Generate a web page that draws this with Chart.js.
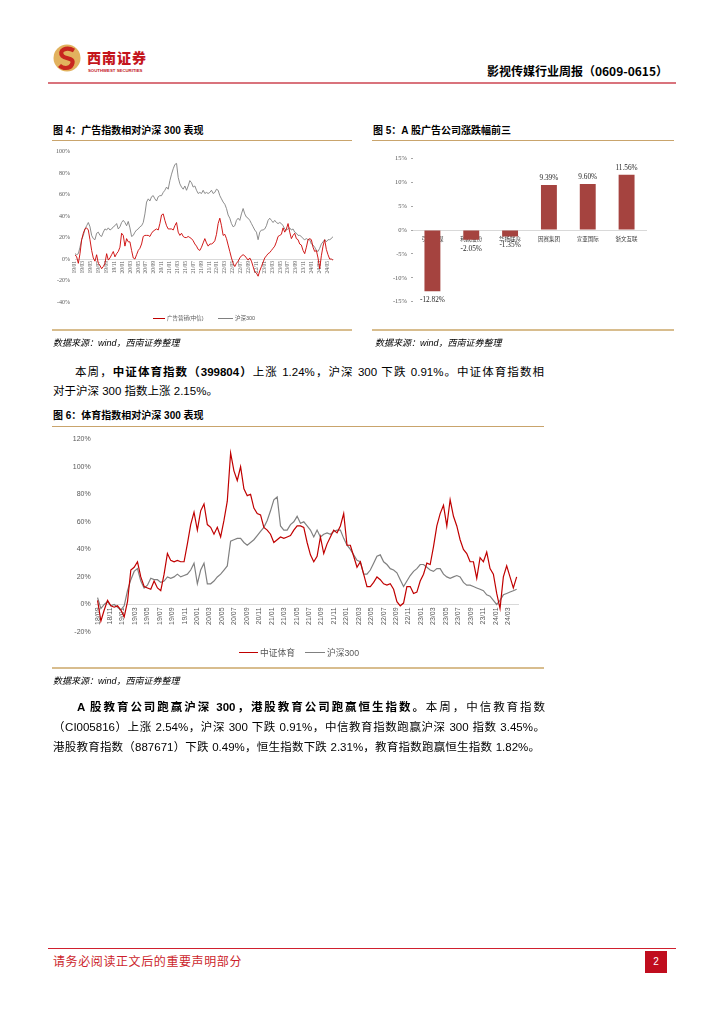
<!DOCTYPE html>
<html><head><meta charset="utf-8">
<script src="https://cdn.jsdelivr.net/npm/chart.js@4.4.1/dist/chart.umd.min.js"></script>
<style>
html,body{margin:0;padding:0;background:#fff;}
body{width:724px;height:1024px;position:relative;overflow:hidden;font-family:"Liberation Sans","Noto Sans CJK SC",sans-serif;color:#000;}
.a{position:absolute;}
.cap{position:absolute;font-size:10px;font-weight:bold;white-space:nowrap;font-family:"Liberation Sans","Noto Sans CJK SC",sans-serif;}
.src{position:absolute;font-size:9px;font-style:italic;white-space:nowrap;color:#000;}
.tan1{position:absolute;height:1px;background:#c9a46c;}
.tan2{position:absolute;height:2px;background:#d8bd8e;}
.jl{position:absolute;font-size:11.5px;line-height:16px;text-align:justify;text-align-last:justify;}
.ll{position:absolute;font-size:11.5px;line-height:16px;white-space:nowrap;}
.lg{position:absolute;white-space:nowrap;color:#595959;}
.ln{position:absolute;}
canvas{position:absolute;}
</style></head>
<body>
<!-- header -->
<svg class="a" style="left:53px;top:44px" width="28" height="28" viewBox="0 0 28 28">
<circle cx="14" cy="14" r="13.5" fill="#e2b25e"/>
<path d="M21 6.5 C13 2 5 7 9.5 12 C13 15.5 22 13.5 19 20.5 C16.5 25.5 9.5 24.5 6.5 21.5" stroke="#c8261f" stroke-width="4.2" fill="none"/>
</svg>
<div class="a" style="left:87px;top:47px;font-size:14px;font-weight:900;color:#c4161c;letter-spacing:1px;font-family:'Noto Sans CJK SC';white-space:nowrap;">西南证券</div>
<div class="a" style="left:88px;top:68px;font-size:4.3px;font-weight:bold;color:#c4161c;white-space:nowrap;">SOUTHWEST SECURITIES</div>
<div class="a" style="right:56px;top:62px;font-size:12px;font-weight:bold;white-space:nowrap;font-family:'Noto Sans CJK SC';">影视传媒行业周报（0609-0615）</div>
<div class="a" style="left:48px;top:82px;width:628px;height:2px;background:#d9737c;"></div>

<!-- figure 4 & 5 captions -->
<div class="cap" style="left:53px;top:122px;">图 4：广告指数相对沪深 300 表现</div>
<div class="tan1" style="left:52px;top:140px;width:300px;"></div>
<div class="cap" style="left:373px;top:122px;">图 5：A 股广告公司涨跌幅前三</div>
<div class="tan1" style="left:372px;top:140px;width:302px;"></div>

<canvas id="c4" width="300" height="185" style="left:52px;top:143px;width:300px;height:185px;"></canvas>
<canvas id="c5" width="302" height="187" style="left:372px;top:143px;width:302px;height:187px;"></canvas>

<!-- fig 4 legend -->
<div class="ln" style="left:153px;top:318px;width:12px;height:1px;background:#c00000;"></div>
<div class="lg" style="left:167px;top:314px;font-size:5.5px;">广告营销(中信)</div>
<div class="ln" style="left:218px;top:318px;width:15px;height:1px;background:#808080;"></div>
<div class="lg" style="left:235px;top:314px;font-size:5.5px;">沪深300</div>

<div class="tan2" style="left:52px;top:329px;width:300px;"></div>
<div class="tan2" style="left:372px;top:329px;width:302px;"></div>
<div class="src" style="left:53px;top:336px;">数据来源：wind，西南证券整理</div>
<div class="src" style="left:375px;top:336px;">数据来源：wind，西南证券整理</div>

<!-- paragraph 1 -->
<div class="jl" style="left:75px;top:364px;width:469px;">本周，<b>中证体育指数（399804）</b>上涨 1.24%，沪深 300 下跌 0.91%。中证体育指数相</div>
<div class="ll" style="left:53px;top:383px;">对于沪深 300 指数上涨 2.15%。</div>

<!-- figure 6 -->
<div class="cap" style="left:53px;top:407px;">图 6：体育指数相对沪深 300 表现</div>
<div class="tan1" style="left:52px;top:426px;width:492px;"></div>
<canvas id="c6" width="492" height="236" style="left:52px;top:430px;width:492px;height:236px;"></canvas>
<div class="ln" style="left:239px;top:652px;width:19px;height:1.3px;background:#c00000;"></div>
<div class="lg" style="left:260px;top:646px;font-size:8.75px;">中证体育</div>
<div class="ln" style="left:305px;top:652px;width:20px;height:1.3px;background:#808080;"></div>
<div class="lg" style="left:327px;top:646px;font-size:8.75px;">沪深300</div>
<div class="tan2" style="left:52px;top:667px;width:492px;"></div>
<div class="src" style="left:53px;top:674px;">数据来源：wind，西南证券整理</div>

<!-- paragraph 2 -->
<div class="jl" style="left:77px;top:699px;width:468px;"><b>A 股教育公司跑赢沪深 300，港股教育公司跑赢恒生指数。</b>本周，中信教育指数</div>
<div class="jl" style="left:53px;top:719px;width:492px;">（CI005816）上涨 2.54%，沪深 300 下跌 0.91%，中信教育指数跑赢沪深 300 指数 3.45%。</div>
<div class="jl" style="left:53px;top:739px;width:487px;">港股教育指数（887671）下跌 0.49%，恒生指数下跌 2.31%，教育指数跑赢恒生指数 1.82%。</div>

<!-- footer -->
<div class="a" style="left:48px;top:948px;width:628px;height:1px;background:#d0202e;"></div>
<div class="a" style="left:53px;top:952px;font-size:12px;color:#cc1f2c;letter-spacing:0.6px;white-space:nowrap;">请务必阅读正文后的重要声明部分</div>
<div class="a" style="left:645px;top:951px;width:22px;height:22px;background:#c00d1e;color:#fff;font-size:10px;line-height:22px;text-align:center;">2</div>

<script>
// ---------- Figure 4: 广告指数相对沪深300 ----------
const adTickLabels = ['19/01','19/03','19/05','19/07','19/09','19/11','20/01','20/03','20/05','20/07','20/09','20/11','21/01','21/03','21/05','21/07','21/09','21/11','22/01','22/03','22/05','22/07','22/09','22/11','23/01','23/03','23/05','23/07','23/09','23/11','24/01','24/03','24/05'];
const adSpanMonths = 65.4;
const adIndex = [
 4, 2, -4, 5, 18, 24, 28, 29, 27, 18,
 8, 1, -2, 4, -4, -6, -9, -7, -4, 5,
 -1, 1, 4, 7, 2, 5, 7, 11, 24, 22,
 12, 19, 16, 16, 8, 1, 0, 4, 8, 10,
 14, 21, 22, 22, 22, 21, 24, 26, 27, 28,
 27, 33, 41, 42, 36, 31, 28, 28, 28, 27,
 31, 34, 25, 22, 24, 21, 20, 20, 21, 20,
 19, 17, 14, 12, 9, 8, 11, 15, 19, 15,
 12, 14, 14, 15, 17, 23, 33, 38, 31, 22,
 23, 19, 13, 7, 1, -4, -7, -4, -2, 1,
 3, 4, 3, 1, -1, 1, -2, -7, -12, -13,
 -16, -11, -7, -3, 1, 3, 5, 6, 8, 10,
 12, 16, 21, 22, 23, 29, 25, 28, 33, 25,
 19, 22, 24, 19, 18, 14, 13, 8, 5, 11,
 18, 19, 18, 11, 7, 8, 1, -9, 3, 12,
 18, 9, 4, 0, 0, -1];
const adHs300 = [
 5, 4, 5, 11, 18, 22, 28, 31, 34, 30,
 22, 19, 18, 24, 25, 22, 21, 25, 28, 27,
 29, 27, 28, 30, 31, 33, 28, 30, 34, 36,
 34, 31, 35, 29, 21, 22, 25, 27, 28, 30,
 31, 34, 42, 53, 56, 54, 58, 59, 56, 54,
 58, 59, 59, 62, 64, 67, 65, 73, 79, 84,
 88, 89, 76, 70, 67, 65, 68, 64, 68, 73,
 71, 67, 68, 64, 61, 62, 61, 64, 61, 62,
 61, 62, 64, 61, 62, 65, 64, 59, 56, 53,
 51, 47, 41, 38, 33, 30, 31, 36, 38, 36,
 42, 47, 42, 39, 38, 36, 33, 30, 27, 25,
 18, 25, 27, 27, 28, 31, 36, 38, 36, 34,
 36, 34, 33, 34, 33, 31, 28, 27, 28, 29,
 27, 28, 25, 24, 22, 22, 21, 19, 18, 19,
 18, 18, 14, 13, 11, 8, 7, 10, 14, 16,
 18, 16, 18, 18, 19, 21];
const adYTicks = [100, 80, 60, 40, 20, 0, -20, -40];

// ---------- Figure 5: A股广告公司涨跌幅前三 ----------
const barCompanies = ['引力传媒','利欧股份','华扬联众','因赛集团','宣亚国际','浙文互联'];
const barChanges = [-12.82, -2.05, -1.35, 9.39, 9.60, 11.56];
const barYTicks = [15, 10, 5, 0, -5, -10, -15];

// ---------- Figure 6: 体育指数相对沪深300 ----------
const sportsTickLabels = ['18/09','18/11','19/01','19/03','19/05','19/07','19/09','19/11','20/01','20/03','20/05','20/07','20/09','20/11','21/01','21/03','21/05','21/07','21/09','21/11','22/01','22/03','22/05','22/07','22/09','22/11','23/01','23/03','23/05','23/07','23/09','23/11','24/01','24/03'];
const sportsStepMonths = 0.5348;
const sportsIndex = [
 3, -12, -4, 3, -1, -2, -1, -4, -9, 2,
 25, 27, 31, 20, 13, 12, 11, 17, 12, 10,
 22, 37, 32, 31, 32, 31, 31, 44, 58, 67,
 54, 68, 73, 58, 56, 51, 56, 49, 61, 75,
 110, 97, 90, 100, 84, 79, 80, 70, 66, 65,
 56, 54, 51, 45, 47, 49, 48, 49,
 50, 54, 57, 57, 56, 45, 36, 31, 35, 49,
 37, 44, 49, 54, 52, 57, 66, 43, 43, 35,
 27, 31, 22, 13, 13, 16, 20, 18, 15, 14,
 15, 11, 2, -1, 1, 13, 13, 8, 9, 17,
 22, 30, 29, 42, 57, 66, 72, 57, 76, 64,
 57, 47, 40, 37, 31, 31, 19, 34, 31, 38,
 26, 22, 8, -3, 20, 28, 20, 12, 20];
const sportsHs300 = [
 5, -3, 0, 2, -1, 0, -2, -4, -1, 10,
 18, 24, 26, 17, 12, 14, 19, 18, 18, 16,
 17, 20, 19, 20, 22, 20, 21, 22, 25, 30,
 15, 25, 30, 15, 15, 17, 20, 22, 25, 28,
 46, 47, 48, 48, 45, 43, 45, 47, 50, 53,
 56, 61, 68, 76, 78, 57, 54, 54,
 58, 60, 64, 59, 60, 57, 54, 49, 54, 49,
 51, 52, 51, 53, 54, 54, 48, 43, 40, 36,
 32, 31, 22, 22, 25, 30, 35, 36, 31, 29,
 26, 25, 23, 18, 13, 17, 21, 24, 26, 29,
 29, 27, 25, 24, 26, 26, 22, 20, 19, 20,
 21, 20, 16, 14, 14, 13, 12, 11, 10, 7,
 6, 3, 0, 3, 7, 8, 9, 10, 11];
const sportsYTicks = [120, 100, 80, 60, 40, 20, 0, -20];

const RED = '#c00000', GRAY = '#808080';

function lineSet(label, values, step, color, width){
  return {label, data: values.map((v,i)=>({x:i*step, y:v})), borderColor: color, borderWidth: width,
    pointRadius: 0, tension: 0, fill: false};
}

// Figure 4
new Chart(document.getElementById('c4'), {
  type: 'line',
  data: {datasets: [
    lineSet('广告营销(中信)', adIndex, adSpanMonths/(adIndex.length-1), '#cc0000', 0.9),
    lineSet('沪深300', adHs300, adSpanMonths/(adHs300.length-1), GRAY, 0.9)
  ]},
  options: {
    responsive:false, animation:false, devicePixelRatio:1,
    layout:{padding:{left:0, top:7, right:19, bottom:26}},
    plugins:{legend:{display:false}, tooltip:{enabled:false}},
    scales:{
      x:{type:'linear', position:{y:0}, min:0, max:adSpanMonths,
        grid:{display:false, drawTicks:false}, border:{display:true, color:'#d9d9d9', width:1},
        afterBuildTicks:s=>{s.ticks = adTickLabels.map((_,i)=>({value:i*2}));},
        ticks:{autoSkip:false, minRotation:90, maxRotation:90, padding:2, color:'#595959',
          font:{size:5.5, family:'Liberation Serif'}, callback:v=>adTickLabels[Math.round(v/2)]}},
      y:{type:'linear', min:-40, max:100,
        grid:{display:false, drawTicks:false}, border:{display:false},
        afterFit:s=>{s.width=23;},
        afterBuildTicks:s=>{s.ticks = adYTicks.map(v=>({value:v}));},
        ticks:{padding:5, color:'#595959', font:{size:6, family:'Liberation Serif'}, callback:v=>v+'%'}}
    }
  }
});

// Figure 5
const barLabelPlugin = {
  id:'barLabels',
  afterDatasetsDraw(chart){
    const ctx = chart.ctx, meta = chart.getDatasetMeta(0);
    ctx.save();
    ctx.font = '7.3px "Liberation Serif"';
    ctx.fillStyle = '#262626';
    ctx.textAlign = 'center';
    ctx.textBaseline = 'middle';
    meta.data.forEach((bar,i)=>{
      const v = barChanges[i];
      const y = v >= 0 ? bar.y - 6.7 : bar.y + 9;
      ctx.fillText(v.toFixed(2)+'%', bar.x, y);
    });
    ctx.restore();
  }
};
new Chart(document.getElementById('c5'), {
  type:'bar',
  data:{labels: barCompanies, datasets:[{data: barChanges, backgroundColor:'#a5433f',
    barPercentage:0.41, categoryPercentage:1}]},
  options:{
    responsive:false, animation:false, devicePixelRatio:1,
    layout:{padding:{left:0, top:15.3, right:28, bottom:28.3}},
    plugins:{legend:{display:false}, tooltip:{enabled:false}},
    scales:{
      x:{type:'category', position:{y:0}, z:1,
        grid:{display:false, drawTicks:false}, border:{display:true, color:'#d9d9d9', width:1},
        ticks:{autoSkip:false, maxRotation:0, minRotation:0, padding:6, color:'#404040',
          font:{size:5.5, family:'Noto Sans CJK SC'}}},
      y:{type:'linear', min:-15, max:15,
        grid:{display:true, drawOnChartArea:false, drawTicks:true, tickLength:2, color:'#a6a6a6'},
        border:{display:false},
        afterFit:s=>{s.width=41;},
        afterBuildTicks:s=>{s.ticks = barYTicks.map(v=>({value:v}));},
        ticks:{padding:4, color:'#595959', font:{size:6.5, family:'Liberation Serif'}, callback:v=>v+'%'}}
    }
  },
  plugins:[barLabelPlugin]
});

// Figure 6
new Chart(document.getElementById('c6'), {
  type:'line',
  data:{datasets:[
    lineSet('中证体育', sportsIndex, sportsStepMonths, RED, 1.2),
    lineSet('沪深300', sportsHs300, sportsStepMonths, GRAY, 1.2)
  ]},
  options:{
    responsive:false, animation:false, devicePixelRatio:1,
    layout:{padding:{left:0, top:8, right:26, bottom:34}},
    plugins:{legend:{display:false}, tooltip:{enabled:false}},
    scales:{
      x:{type:'linear', position:{y:0}, min:-0.3, max:67.6,
        grid:{display:false, drawTicks:false}, border:{display:true, color:'#d9d9d9', width:1},
        afterBuildTicks:s=>{s.ticks = sportsTickLabels.map((_,i)=>({value:i*2}));},
        ticks:{autoSkip:false, minRotation:90, maxRotation:90, padding:3, color:'#595959',
          font:{size:7, family:'Liberation Sans'}, callback:v=>sportsTickLabels[Math.round(v/2)]}},
      y:{type:'linear', min:-20, max:120,
        grid:{display:false, drawTicks:false}, border:{display:false},
        afterFit:s=>{s.width=43.7;},
        afterBuildTicks:s=>{s.ticks = sportsYTicks.map(v=>({value:v}));},
        ticks:{padding:5, color:'#595959', font:{size:7, family:'Liberation Sans'}, callback:v=>v+'%'}}
    }
  }
});
</script>
</body></html>
